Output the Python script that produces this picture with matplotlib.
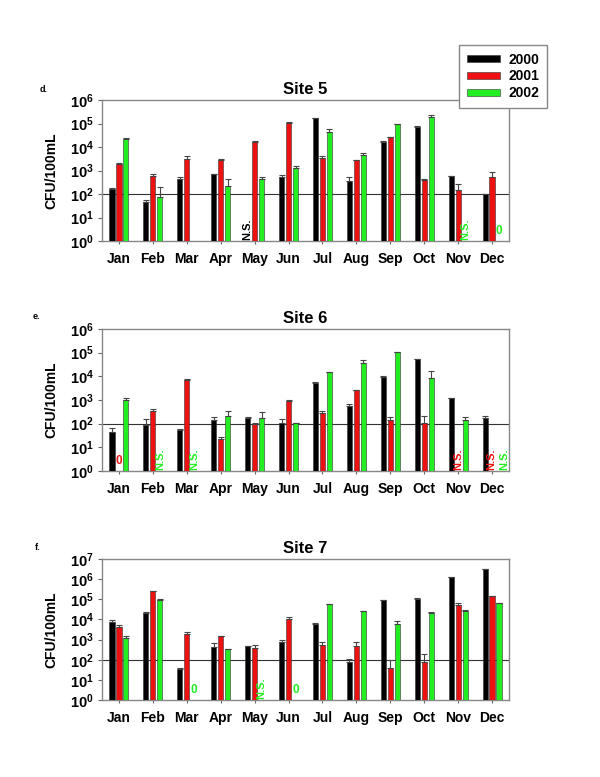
import numpy as np
import matplotlib
matplotlib.use('Agg')
import matplotlib.pyplot as plt
from matplotlib.patches import Patch

plt.rcParams['font.family'] = ['Liberation Sans', 'DejaVu Sans']
plt.rcParams['mathtext.fontset'] = 'custom'
plt.rcParams['mathtext.rm'] = 'Liberation Sans:bold'
plt.rcParams['mathtext.bf'] = 'Liberation Sans:bold'

nan = np.nan
months = ['Jan', 'Feb', 'Mar', 'Apr', 'May', 'Jun', 'Jul', 'Aug', 'Sep', 'Oct', 'Nov', 'Dec']
years = ['2000', '2001', '2002']
colors = ['#000000', '#ee1111', '#22ee22']

# Site 5 - значения и верх усов (cap)
s5_2000 = [160, 47, 420, 690, nan, 510, 166000, 370, 17000, 70000, 590, 97]
s5_2000_cap = [175, 53, 510, 700, nan, 620, 170000, 510, 18000, 76000, 600, 97]
s5_2001 = [1950, 580, 3100, 2900, 16300, 109000, 3300, 2700, 25700, 395, 148, 550]
s5_2001_cap = [2100, 690, 4000, 3000, 17500, 112000, 4300, 2800, 27000, 420, 275, 860]
s5_2002 = [22500, 77, nan, 220, 420, 1240, 44000, 4700, 95000, 195000, nan, nan]
s5_2002_cap = [24000, 200, nan, 435, 530, 1500, 57000, 5400, 98000, 240000, nan, nan]

# Site 6
s6_2000 = [46, 86, 55, 140, 182, 105, 5300, 550, 9600, 52000, 1160, 180]
s6_2000_cap = [68, 155, 57, 188, 190, 165, 5500, 710, 10800, 53000, 1200, 220]
s6_2001 = [nan, 340, 6700, 23, 98, 920, 285, 2600, 145, 108, nan, nan]
s6_2001_cap = [nan, 410, 7400, 28, 111, 990, 360, 2650, 200, 215, nan, nan]
s6_2002 = [1020, nan, nan, 215, 182, 105, 14700, 36500, 107000, 8500, 145, nan]
s6_2002_cap = [1160, nan, nan, 335, 305, 105, 15000, 50000, 110000, 16600, 200, nan]

# Site 7
s7_2000 = [7500, 22000, 34, 450, 490, 770, 5700, 79, 88000, 105000, 1.28e6, 3.1e6]
s7_2000_cap = [9300, 24000, 38, 660, 500, 960, 6600, 107, 90000, 110000, 1.3e6, 3.2e6]
s7_2001 = [4400, 245000, 1900, 1520, 370, 10200, 560, 500, 37, 74, 52000, 141000]
s7_2001_cap = [5100, 250000, 2400, 1550, 510, 13700, 740, 740, 98, 190, 65000, 146000]
s7_2002 = [1260, 95000, nan, 330, nan, nan, 58000, 25000, 6200, 21800, 26000, 66000]
s7_2002_cap = [1450, 98000, nan, 340, nan, nan, 60000, 26000, 8500, 22500, 28000, 68000]

# пометки: (месяц, серия, текст, сдвиг по x)
s5_notes = [(4, 0, 'N.S.', 0), (10, 2, 'N.S.', 0), (11, 2, '0', 0)]
s6_notes = [(0, 1, '0', 0), (1, 2, 'N.S.', 0), (2, 2, 'N.S.', 0), (10, 1, 'N.S.', 0),
            (11, 1, 'N.S.', -0.02), (11, 2, 'N.S.', 0.15)]
s7_notes = [(2, 2, '0', 0), (4, 2, 'N.S.', 0), (5, 2, '0', 0)]

panels = [
    ('Site 5', 'd.', [s5_2000, s5_2001, s5_2002], [s5_2000_cap, s5_2001_cap, s5_2002_cap], s5_notes, 6),
    ('Site 6', 'e.', [s6_2000, s6_2001, s6_2002], [s6_2000_cap, s6_2001_cap, s6_2002_cap], s6_notes, 6),
    ('Site 7', 'f.', [s7_2000, s7_2001, s7_2002], [s7_2000_cap, s7_2001_cap, s7_2002_cap], s7_notes, 7),
]

fig = plt.figure(figsize=(6, 7.77), dpi=100)
W, H = 600, 777
boxes = [(100, 241), (329, 471), (559, 700)]
left, right = 102, 509
label_pos = [(44, 89), (36, 317), (38, 547)]

offsets = [-0.206, 0.0, 0.206]
x = np.arange(len(months))

for (title, tag, vals, caps, notes, top), (t, b), (lx, ly) in zip(panels, boxes, label_pos):
    ax = fig.add_axes([left / W, 1 - b / H, (right - left) / W, (b - t) / H])
    ax.set_yscale('log')
    for i in range(3):
        v = np.array(vals[i], dtype=float)
        c = np.array(caps[i], dtype=float)
        ax.bar(x + offsets[i], v, width=0.15, color=colors[i], edgecolor='#333333',
               linewidth=0.4, zorder=3)
        ax.errorbar(x + offsets[i], v, yerr=[np.zeros_like(v), c - v], fmt='none',
                    ecolor='#444444', elinewidth=0.8, capsize=2, capthick=0.8, zorder=4)
    for m, s, txt, dx in notes:
        if txt == '0':
            ax.text(m + offsets[s] + dx, 1.5, txt, color=colors[s], fontsize=8.5, fontweight='bold',
                    ha='center', va='bottom', zorder=5)
        else:
            ax.text(m + offsets[s] + dx, 1.1, txt, color=colors[s], fontsize=8, fontweight='bold',
                    ha='center', va='bottom', rotation=90, zorder=5)
    ax.axhline(100, color='#333333', lw=0.8, zorder=2)
    ax.set_xlim(-0.5, 11.5)
    ax.set_ylim(1, 10 ** top)
    ax.set_yticks([10 ** k for k in range(top + 1)])
    ax.set_yticklabels([r'$\mathbf{10^{%d}}$' % k for k in range(top + 1)])
    ax.minorticks_off()
    ax.set_xticks(x)
    ax.set_xticklabels(months, fontsize=10, fontweight='bold')
    ax.tick_params(axis='y', labelsize=10.5, length=3, width=0.8, color='#666666', pad=3)
    ax.tick_params(axis='x', length=2, width=0.8, color='#666666', pad=6)
    for sp in ax.spines.values():
        sp.set_color('#888888')
        sp.set_linewidth(1)
    ax.set_ylabel('CFU/100mL', fontsize=10, fontweight='bold', labelpad=8)
    ax.set_title(title, fontsize=12, fontweight='bold', pad=4)
    fig.text(lx / W, 1 - ly / H, tag, fontsize=6.5, fontweight='bold', ha='center', va='center')

handles = [Patch(facecolor=c, edgecolor='#333333', linewidth=0.4) for c in colors]
leg = fig.legend(handles, years, loc='upper left', bbox_to_anchor=(459 / W, 1 - 45 / H),
                 borderaxespad=0, fancybox=False, framealpha=1, edgecolor='#888888',
                 handlelength=2.4, handleheight=0.45, labelspacing=0.2, borderpad=0.55,
                 handletextpad=0.6, prop={'weight': 'bold', 'size': 10})
leg.get_frame().set_linewidth(1)

fig.savefig('out.png', dpi=100)
